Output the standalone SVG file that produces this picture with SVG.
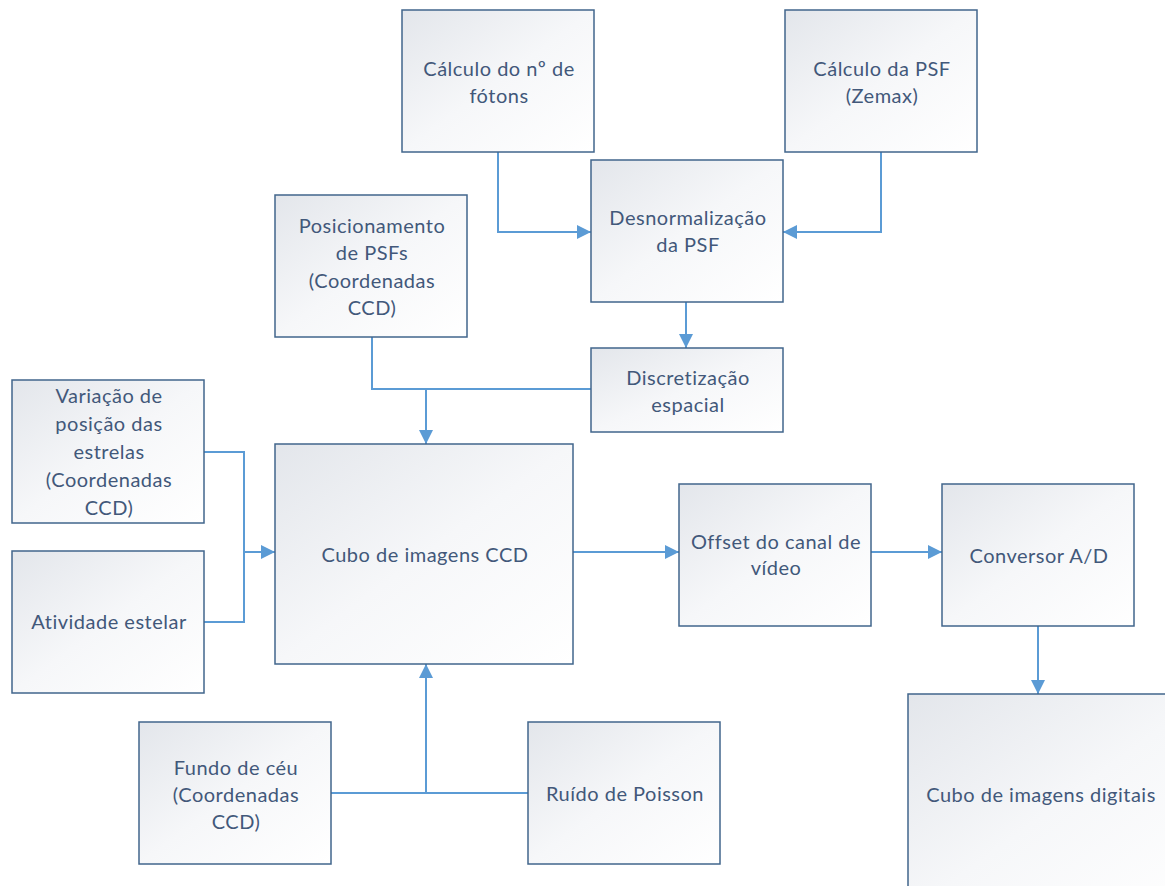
<svg xmlns="http://www.w3.org/2000/svg" width="1165" height="886" viewBox="0 0 1165 886">
<defs>
<linearGradient id="g" x1="0" y1="0" x2="1" y2="1">
<stop offset="0" stop-color="#e3e6eb"/>
<stop offset="0.5" stop-color="#f6f7f9"/>
<stop offset="1" stop-color="#ffffff"/>
</linearGradient>
<marker id="a" markerUnits="userSpaceOnUse" markerWidth="16" markerHeight="16" refX="14" refY="7" orient="auto">
<path d="M0,0 L14,7 L0,14 Z" fill="#5b9bd5"/>
</marker>
<style>
.n rect{fill:url(#g);stroke:#41668c;stroke-width:1.5}
.n text{font-family:Lato,"Open Sans","Liberation Sans",sans-serif;font-size:20px;letter-spacing:0.5px;fill:#42587a;text-anchor:middle}
#c path{fill:none;stroke:#5b9bd5;stroke-width:2}
</style>
</defs>
<rect width="1165" height="886" fill="#ffffff"/>
<g id="c">
<path d="M498,152 V232 H591" marker-end="url(#a)"/>
<path d="M881,152 V232 H783" marker-end="url(#a)"/>
<path d="M686,302 V348" marker-end="url(#a)"/>
<path d="M372,337 V389 H591"/>
<path d="M426,389 V444" marker-end="url(#a)"/>
<path d="M204,452 H244 V622 H204"/>
<path d="M244,552 H275" marker-end="url(#a)"/>
<path d="M573,552 H679" marker-end="url(#a)"/>
<path d="M871,552 H942" marker-end="url(#a)"/>
<path d="M1038,626 V694" marker-end="url(#a)"/>
<path d="M331,793 H528"/>
<path d="M426,793 V664" marker-end="url(#a)"/>
</g>
<g id="n1" class="n"><rect x="402" y="10" width="192" height="142"/><text x="499" y="76">Cálculo do nº de</text><text x="499" y="103">fótons</text></g>
<g id="n2" class="n"><rect x="785" y="10" width="192" height="142"/><text x="882" y="76">Cálculo da PSF</text><text x="882" y="103">(Zemax)</text></g>
<g id="n3" class="n"><rect x="591" y="160" width="192" height="142"/><text x="688" y="225">Desnormalização</text><text x="688" y="252">da PSF</text></g>
<g id="n4" class="n"><rect x="275" y="195" width="192" height="142"/><text x="372" y="233">Posicionamento</text><text x="372" y="260">de PSFs</text><text x="372" y="288">(Coordenadas</text><text x="372" y="315">CCD)</text></g>
<g id="n5" class="n"><rect x="591" y="348" width="192" height="84"/><text x="688" y="385">Discretização</text><text x="688" y="412">espacial</text></g>
<g id="n6" class="n"><rect x="12" y="380" width="192" height="143"/><text x="109" y="403">Variação de</text><text x="109" y="431">posição das</text><text x="109" y="459">estrelas</text><text x="109" y="487">(Coordenadas</text><text x="109" y="515">CCD)</text></g>
<g id="n7" class="n"><rect x="12" y="551" width="192" height="142"/><text x="109" y="629">Atividade estelar</text></g>
<g id="n8" class="n"><rect x="275" y="444" width="298" height="220"/><text x="425" y="562">Cubo de imagens CCD</text></g>
<g id="n9" class="n"><rect x="679" y="484" width="192" height="142"/><text x="776" y="549">Offset do canal de</text><text x="776" y="575">vídeo</text></g>
<g id="n10" class="n"><rect x="942" y="484" width="192" height="142"/><text x="1039" y="563">Conversor A/D</text></g>
<g id="n11" class="n"><rect x="908" y="694" width="300" height="220"/><text x="1041" y="802">Cubo de imagens digitais</text></g>
<g id="n12" class="n"><rect x="139" y="722" width="192" height="142"/><text x="236" y="775">Fundo de céu</text><text x="236" y="802">(Coordenadas</text><text x="236" y="829">CCD)</text></g>
<g id="n13" class="n"><rect x="528" y="722" width="192" height="142"/><text x="625" y="801">Ruído de Poisson</text></g>
</svg>
